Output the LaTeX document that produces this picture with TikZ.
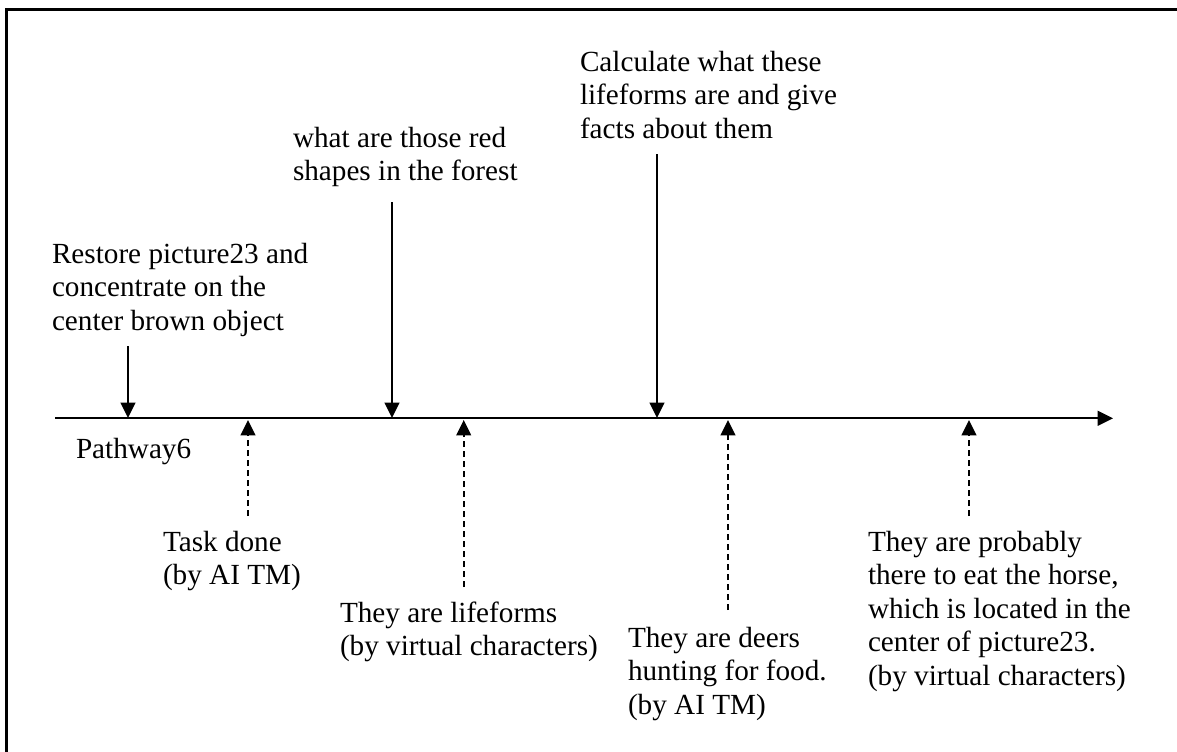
\documentclass[tikz,border=0pt]{standalone}
\usepackage{fontspec}
\setmainfont{Liberation Serif}
\usetikzlibrary{arrows.meta}
\newcommand{\txtblock}[1]{\begin{tabular}[t]{@{}l@{}}#1\end{tabular}}
\begin{document}
\begin{tikzpicture}[x=0.75pt,y=-0.75pt,
  lbl/.style={anchor=base west,inner sep=0pt,outer sep=0pt,
    font=\fontsize{21.9}{25.2}\selectfont},
  tip/.style={-{Triangle[length=11.5pt,width=11pt]}},
  query/.style={tip,line width=1.4pt},
  answer/.style={tip,line width=1.4pt,dash pattern=on 4.5pt off 3pt},
  axisline/.style={tip,line width=1.7pt}]
\useasboundingbox (0,0) rectangle (1177,751);
% frame
\draw[line width=2pt] (6.7,760) -- (6.7,9.7) -- (1190,9.7);

% time axis
\coordinate (ax0) at (55,418.3);
\coordinate (ax1) at (1113,418.3);
\draw[axisline] (ax0) -- (ax1);
\node[lbl] (pw) at (76,458) {Pathway6};

% requests (solid, pointing down onto the axis)
\node[lbl] (q1) at (52,263) {\txtblock{Restore picture23 and\\concentrate on the\\center brown object}};
\node[lbl] (q2) at (293,147) {\txtblock{what are those red\\shapes in the forest}};
\node[lbl] (q3) at (580,71) {\txtblock{Calculate what these\\lifeforms are and give\\facts about them}};
\coordinate (q1s) at (128,346);
\coordinate (q1e) at (128,418);
\coordinate (q2s) at (392,202);
\coordinate (q2e) at (392,418);
\coordinate (q3s) at (657,154);
\coordinate (q3e) at (657,418);
\draw[query] (q1s) -- (q1e);
\draw[query] (q2s) -- (q2e);
\draw[query] (q3s) -- (q3e);

% responses (dashed, pointing up onto the axis)
\node[lbl] (r1) at (163,551) {\txtblock{Task done\\(by AI TM)}};
\node[lbl] (r2) at (340,622) {\txtblock{They are lifeforms\\(by virtual characters)}};
\node[lbl] (r3) at (628,647) {\txtblock{They are deers\\hunting for food.\\(by AI TM)}};
\node[lbl] (r4) at (868,551) {\txtblock{They are probably\\there to eat the horse,\\which is located in the\\center of picture23.\\(by virtual characters)}};
\coordinate (r1s) at (248,516);
\coordinate (r1e) at (248,420);
\coordinate (r2s) at (463.7,587);
\coordinate (r2e) at (463.7,420);
\coordinate (r3s) at (728,610);
\coordinate (r3e) at (728,420);
\coordinate (r4s) at (969,516);
\coordinate (r4e) at (969,420);
\draw[answer] (r1s) -- (r1e);
\draw[answer] (r2s) -- (r2e);
\draw[answer] (r3s) -- (r3e);
\draw[answer] (r4s) -- (r4e);
\end{tikzpicture}
\end{document}
